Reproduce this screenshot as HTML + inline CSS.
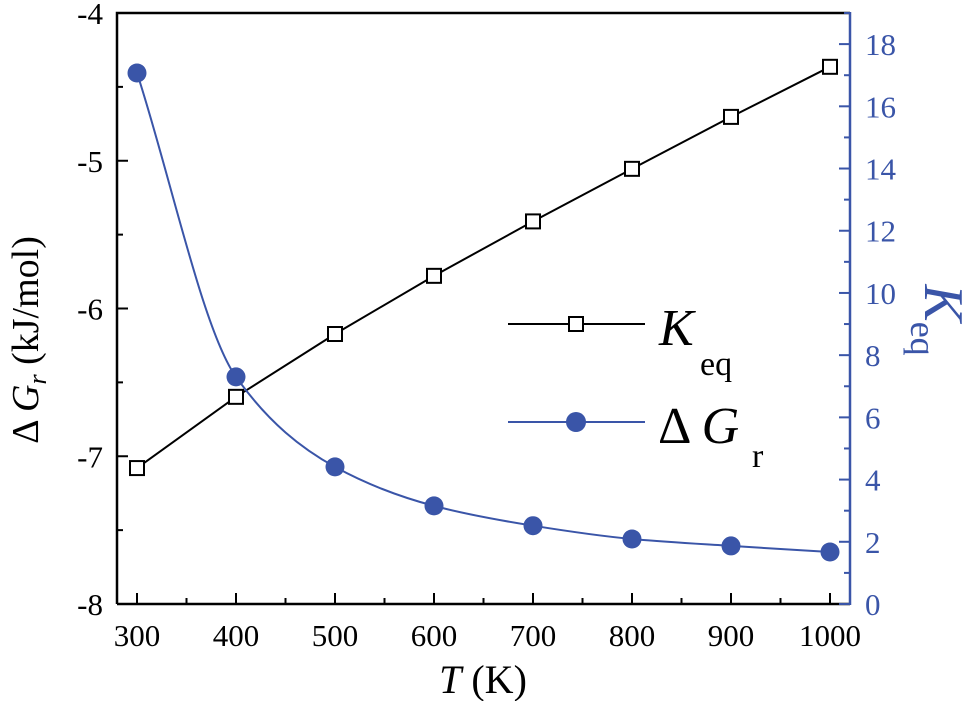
<!DOCTYPE html>
<html><head><meta charset="utf-8"><style>
html,body{margin:0;padding:0;background:#fff;}
svg, svg text, svg tspan{font-family:"Liberation Serif","Times New Roman",Times,"DejaVu Serif",serif;}
svg{display:block;}
</style></head><body>
<svg id="chart" width="969" height="701" viewBox="0 0 969 701">
<g id="axes"></g><g id="series"></g>
<g>
  <line x1="508" y1="324" x2="645" y2="324" stroke="#000" stroke-width="2"/>
  <rect x="569" y="317" width="14" height="14" fill="#fff" stroke="#000" stroke-width="2"/>
  <text x="659" y="345" font-size="52" font-style="italic">K</text>
  <text x="700" y="375" font-size="34">eq</text>
  <line x1="508" y1="422" x2="645" y2="422" stroke="#3a55a8" stroke-width="2"/>
  <circle cx="576" cy="422" r="10" fill="#3a55a8"/>
  <text x="658" y="443" font-size="52">Δ <tspan font-style="italic">G</tspan></text>
  <text x="752" y="467" font-size="34">r</text>
</g>
<text transform="translate(38,340) rotate(-90)" text-anchor="middle" font-size="38">Δ <tspan font-style="italic">G</tspan><tspan font-style="italic" font-size="26" dy="8">r</tspan><tspan dy="-8"> (kJ/mol)</tspan></text>
<text transform="translate(925,320) rotate(90)" text-anchor="middle" font-size="56" fill="#3a55a8"><tspan font-style="italic">K</tspan><tspan font-size="36" dy="14">eq</tspan></text>
<text x="483" y="693" text-anchor="middle" font-size="40"><tspan font-style="italic">T</tspan> (K)</text>
</svg>
<script>
const temps=[300,400,500,600,700,800,900,1000];
const keqValues=[4.37,6.66,8.68,10.55,12.3,13.99,15.66,17.27];
const dgValues=[-4.406,-6.463,-7.072,-7.336,-7.47,-7.56,-7.607,-7.648];
const xTicks=[300,400,500,600,700,800,900,1000];
const leftTicks=[-4,-5,-6,-7,-8];
const rightTicks=[0,2,4,6,8,10,12,14,16,18];
const BLUE="#3a55a8";
const L=117,R=850,T=13,B=604;
const xs=v=>137+(v-300)*0.99;
const yl=v=>T+(-4-v)*(B-T)/4;
const yr=v=>B-v*(B-T)/19;
const NS="http://www.w3.org/2000/svg";
const axes=document.getElementById('axes'),ser=document.getElementById('series');
function mk(tag,attrs,parent){const e=document.createElementNS(NS,tag);for(const k in attrs)e.setAttribute(k,attrs[k]);parent.appendChild(e);return e;}
let e;
e=mk('path',{d:`M${L},${B}V${T}H${R}`,fill:'none',stroke:'#000','stroke-width':2.5},axes);


e=mk('line',{x1:L,y1:B,x2:R,y2:B,stroke:'#000','stroke-width':2.5},axes);


e=mk('line',{x1:R,y1:T-1,x2:R,y2:B+1,stroke:BLUE,'stroke-width':2.5},axes);


for(let v=300;v<=1000;v+=50){const maj=v%100===0;
 e=mk('line',{x1:xs(v),y1:B,x2:xs(v),y2:B-(maj?11:6),stroke:'#000','stroke-width':2},axes);
 
 }
xTicks.forEach(v=>{e=mk('text',{x:xs(v),y:646,'text-anchor':'middle','font-size':31},axes);e.textContent=v;
 
 });
for(let v=-4;v>=-8;v-=0.5){const maj=Number.isInteger(v);
 e=mk('line',{x1:L,y1:yl(v),x2:L+(maj?11:6),y2:yl(v),stroke:'#000','stroke-width':2},axes);
 
 }
leftTicks.forEach(v=>{e=mk('text',{x:103,y:yl(v)+11,'text-anchor':'end','font-size':31},axes);e.textContent=v;
 
 });
for(let v=0;v<=19;v++){const maj=v%2===0;
 e=mk('line',{x1:R,y1:yr(v),x2:R-(maj?11:6),y2:yr(v),stroke:BLUE,'stroke-width':2},axes);
 
 }
rightTicks.forEach(v=>{e=mk('text',{x:865,y:yr(v)+11,'font-size':31,fill:BLUE},axes);e.textContent=v;
 
 });
e=mk('polyline',{points:temps.map((t,i)=>xs(t)+','+yr(keqValues[i])).join(' '),fill:'none',stroke:'#000','stroke-width':2},ser);


const P=temps.map((t,i)=>[xs(t),yl(dgValues[i])]);
const n=P.length,dl=[],m=[];
for(let i=0;i<n-1;i++)dl.push((P[i+1][1]-P[i][1])/(P[i+1][0]-P[i][0]));
m[0]=dl[0];m[n-1]=dl[n-2];
for(let i=1;i<n-1;i++){m[i]=dl[i-1]*dl[i]<=0?0:(2/(1/dl[i-1]+1/dl[i]));}
let d=`M${P[0][0]},${P[0][1]}`;
for(let i=0;i<n-1;i++){const h=P[i+1][0]-P[i][0];
 d+=`C${P[i][0]+h/3},${P[i][1]+m[i]*h/3} ${P[i+1][0]-h/3},${P[i+1][1]-m[i+1]*h/3} ${P[i+1][0]},${P[i+1][1]}`;}
e=mk('path',{d:d,fill:'none',stroke:BLUE,'stroke-width':2},ser);


temps.forEach((t,i)=>{
 e=mk('rect',{x:xs(t)-7,y:yr(keqValues[i])-7,width:14,height:14,fill:'#fff',stroke:'#000','stroke-width':2},ser);
 
 
 e=mk('circle',{cx:xs(t),cy:yl(dgValues[i]),r:9.5,fill:BLUE},ser);
 
 
});
</script>
</body></html>
